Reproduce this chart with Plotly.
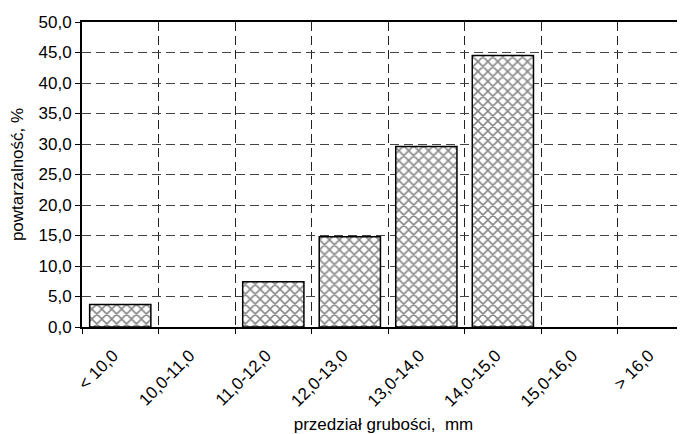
import plotly.graph_objects as go

categories = ["< 10,0", "10,0-11,0", "11,0-12,0", "12,0-13,0", "13,0-14,0",
              "14,0-15,0", "15,0-16,0", "> 16,0"]
values = [3.7, 0.0, 7.4, 14.8, 29.6, 44.5, 0.0, 0.0]
y_ticks = [0, 5, 10, 15, 20, 25, 30, 35, 40, 45, 50]

font = "Liberation Sans, Arial, sans-serif"
outline_widths = [1.5 if v > 0 else 0 for v in values]

fig = go.Figure(go.Bar(
    x=categories, y=values, width=0.8,
    marker=dict(color="white",
                line=dict(color="black", width=outline_widths),
                pattern=dict(shape="x", size=7, solidity=0.4,
                             fgcolor="#111111", bgcolor="white", fillmode="overlay")),
))

fig.update_layout(
    width=677, height=426,
    margin=dict(l=74, r=0, t=14, b=107),
    paper_bgcolor="white", plot_bgcolor="white",
    separators=", ",
    font=dict(family=font, size=17, color="black"),
    showlegend=False,
    xaxis=dict(
        type="category", range=[-0.5, 7.38], automargin=False,
        tickson="boundaries", ticks="outside", ticklen=5, tickcolor="black",
        tickangle=-45, tickfont=dict(size=17),
        ticklabelstandoff=10, ticklabelshift=-7,
        showline=True, linecolor="black", linewidth=2, mirror=True,
        showgrid=True, gridcolor="#222222", griddash="9px,5px", gridwidth=1,
        title=dict(text="przedział grubości,\u00a0\u00a0mm", font=dict(size=17), standoff=10),
    ),
    yaxis=dict(
        range=[0, 50], tickvals=y_ticks, tickformat=".1f", automargin=False,
        ticks="outside", ticklen=5, tickcolor="black",
        showline=True, linecolor="black", linewidth=2,
        showgrid=True, gridcolor="#444444", griddash="9px,5px", gridwidth=1,
        zeroline=False,
        title=dict(text="powtarzalność, %", font=dict(size=17), standoff=12),
    ),
)

fig.write_html("out.html")
